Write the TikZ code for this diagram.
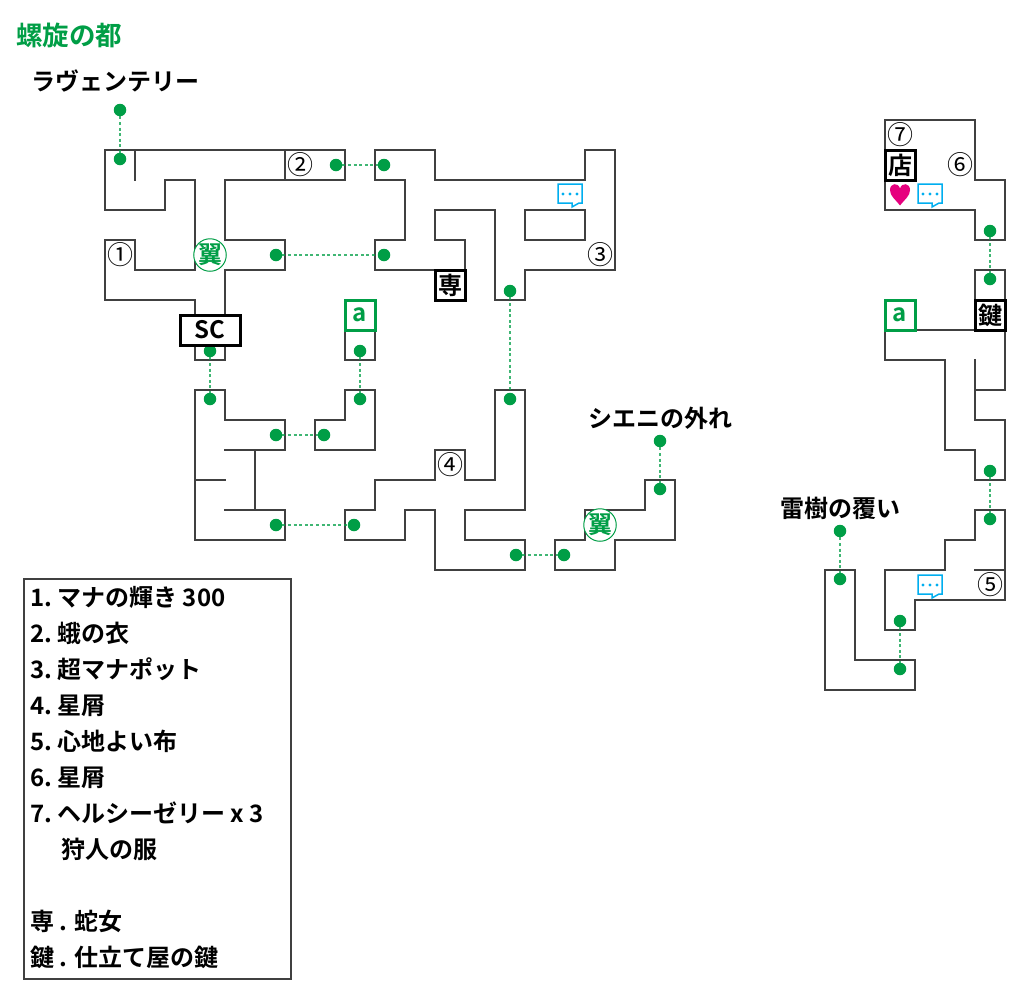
\documentclass[tikz,border=0pt]{standalone}
\usepackage{fontspec}
\setmainfont{Noto Sans CJK JP}[BoldFont={Noto Sans CJK JP Bold}]
\newcommand{\tk}{\kern-2pt }
\definecolor{wall}{HTML}{404040}
\definecolor{grn}{HTML}{009E46}
\definecolor{chatblue}{HTML}{00AEEF}
\definecolor{heartc}{HTML}{E6007E}
\tikzset{
  wallline/.style={draw=wall,line width=1.7pt,line join=miter,line cap=rect},
  dotpt/.style={circle,fill=grn,inner sep=0pt,minimum size=12.5pt},
  linkline/.style={draw=grn,draw opacity=.75,line width=1.8pt,dash pattern=on 3pt off 2.6pt},
  markbox/.style={draw=black,fill=white,line width=3pt,inner sep=0pt,minimum width=30pt,minimum height=30pt,font=\fontsize{24}{24}\selectfont\bfseries},
  sbox/.style={markbox,minimum width=60pt},
  abox/.style={markbox,draw=grn,text=grn},
  wingmark/.style={circle,draw=grn,fill=white,line width=1pt,inner sep=0pt,minimum size=29.5pt,text=grn,font=\fontsize{24}{24}\selectfont\bfseries},
  numlabel/.style={inner sep=0pt,font=\fontsize{26}{26}\selectfont},
  place/.style={inner sep=0pt,font=\fontsize{24}{24}\selectfont\bfseries},
  legendline/.style={anchor=base west,inner sep=0pt,font=\fontsize{24}{24}\selectfont\bfseries},
  chat/.pic={
    \draw[chatblue,line width=1.5pt,line join=miter,fill=white] (-12,-10) -- (12,-10) -- (12,9) -- (9,9) -- (2,13) -- (2,9) -- (-12,9) -- cycle;
    \fill[chatblue] (-7,0) circle (1.7) (0,0) circle (1.7) (7,0) circle (1.7);
  },
}
\begin{document}
\begin{tikzpicture}[x=1pt,y=-1pt]
\useasboundingbox (0,0) rectangle (1035,1005);

% walls
\draw[wallline] (105,150) -- (345,150) -- (345,180) -- (225,180) -- (225,240) -- (285,240) -- (285,270) -- (225,270) -- (225,315);
\draw[wallline] (105,150) -- (105,210) -- (165,210) -- (165,180) -- (195,180) -- (195,270) -- (135,270) -- (135,240) -- (105,240) -- (105,300) -- (195,300) -- (195,315);
\draw[wallline] (135,150) -- (135,180);
\draw[wallline] (285,150) -- (285,180);
\draw[wallline] (195,345) -- (195,360) -- (225,360) -- (225,345);
\draw[wallline] (345,330) -- (345,360) -- (375,360) -- (375,330);
\draw[wallline] (465,270) -- (465,240) -- (435,240) -- (435,210) -- (495,210) -- (495,300) -- (525,300) -- (525,270) -- (615,270) -- (615,150) -- (585,150) -- (585,180) -- (435,180) -- (435,150) -- (375,150) -- (375,180) -- (405,180) -- (405,240) -- (375,240) -- (375,270) -- (435,270);
\draw[wallline] (525,210) rectangle (585,240);
\draw[wallline] (195,390) -- (225,390) -- (225,420) -- (285,420) -- (285,450) -- (225,450);
\draw[wallline] (255,450) -- (255,510);
\draw[wallline] (195,480) -- (225,480);
\draw[wallline] (225,510) -- (285,510) -- (285,540) -- (195,540) -- (195,390);
\draw[wallline] (315,420) -- (345,420) -- (345,390) -- (375,390) -- (375,450) -- (315,450) -- cycle;
\draw[wallline] (345,510) -- (375,510) -- (375,480) -- (435,480) -- (435,450) -- (465,450) -- (465,480) -- (495,480) -- (495,390) -- (525,390) -- (525,510) -- (465,510) -- (465,540) -- (525,540) -- (525,570) -- (435,570) -- (435,510) -- (405,510) -- (405,540) -- (345,540) -- cycle;
\draw[wallline] (555,570) -- (615,570) -- (615,540) -- (675,540) -- (675,480) -- (645,480) -- (645,510) -- (585,510) -- (585,540) -- (555,540) -- cycle;
\draw[wallline] (885,120) -- (975,120) -- (975,180) -- (1005,180) -- (1005,240) -- (975,240) -- (975,210) -- (885,210) -- cycle;
\draw[wallline] (975,300) -- (975,270) -- (1005,270) -- (1005,300);
\draw[wallline] (885,330) -- (975,330);
\draw[wallline] (885,330) -- (885,360) -- (945,360) -- (945,450) -- (975,450) -- (975,480) -- (1005,480) -- (1005,420) -- (975,420) -- (975,360);
\draw[wallline] (1005,330) -- (1005,390) -- (975,390);
\draw[wallline] (975,510) -- (1005,510) -- (1005,600) -- (915,600) -- (915,630) -- (885,630) -- (885,570) -- (945,570) -- (945,540) -- (975,540) -- cycle;
\draw[wallline] (975,570) -- (1005,570);
\draw[wallline] (825,570) -- (855,570) -- (855,660) -- (915,660) -- (915,690) -- (825,690) -- cycle;

% link end points
\node[dotpt] (l1a) at (120,110) {};  \node[dotpt] (l1b) at (120,159) {};
\node[dotpt] (l2a) at (336,165) {};  \node[dotpt] (l2b) at (384,165) {};
\node[dotpt] (l3a) at (276,255) {};  \node[dotpt] (l3b) at (384,255) {};
\node[dotpt] (l4a) at (210,351) {};  \node[dotpt] (l4b) at (210,399) {};
\node[dotpt] (l5a) at (360,351) {};  \node[dotpt] (l5b) at (360,399) {};
\node[dotpt] (l6a) at (276,435) {};  \node[dotpt] (l6b) at (324,435) {};
\node[dotpt] (l7a) at (276,525) {};  \node[dotpt] (l7b) at (354,525) {};
\node[dotpt] (l8a) at (510,291) {};  \node[dotpt] (l8b) at (510,399) {};
\node[dotpt] (l9a) at (516,555) {};  \node[dotpt] (l9b) at (564,555) {};
\node[dotpt] (l10a) at (660,441) {}; \node[dotpt] (l10b) at (660,489) {};
\node[dotpt] (l11a) at (990,231) {}; \node[dotpt] (l11b) at (990,279) {};
\node[dotpt] (l12a) at (990,471) {}; \node[dotpt] (l12b) at (990,519) {};
\node[dotpt] (l13a) at (840,531) {}; \node[dotpt] (l13b) at (840,579) {};
\node[dotpt] (l14a) at (900,621) {}; \node[dotpt] (l14b) at (900,669) {};
\foreach \k in {1,...,14} \draw[linkline] (l\k a) -- (l\k b);

% marks
\node[sbox] (sc) at (210,330) {SC};
\node[abox] (a1) at (360,315) {a};
\node[abox] (a2) at (900,315) {a};
\node[markbox] (sen) at (450,285) {専};
\node[markbox] (mise) at (900,165) {店};
\node[markbox] (kagi) at (990,315) {鍵};
\node[wingmark] (w1) at (210,255) {翼};
\node[wingmark] (w2) at (600,525) {翼};

% numbers
\node[numlabel] (n1) at (120,255) {①};
\node[numlabel] (n2) at (300,165) {②};
\node[numlabel] (n3) at (600,255) {③};
\node[numlabel] (n4) at (450,465) {④};
\node[numlabel] (n5) at (990,585) {⑤};
\node[numlabel] (n6) at (960,165) {⑥};
\node[numlabel] (n7) at (900,135) {⑦};

% chat icons and heart
\pic at (570,194) {chat};
\pic at (930,194) {chat};
\pic at (930,585) {chat};
\fill[heartc] (900,205.5) .. controls (895,199) and (890,196) .. (890,190) .. controls (890,183) and (898,182) .. (900,188.5) .. controls (902,182) and (910,183) .. (910,190) .. controls (910,196) and (905,199) .. (900,205.5) -- cycle;

% place labels
\node[place,anchor=west,text=grn,font=\fontsize{26.5}{26.5}\selectfont\bfseries] (title) at (16,35) {螺旋の都};
\node[place] (p1) at (115,81) {ラヴェンテリー};
\node[place] (p2) at (660,418) {シエニの外れ};
\node[place] (p3) at (840,508) {雷樹の覆い};

% legend
\node[draw=wall,line width=1.7pt,inner sep=0pt,minimum width=267pt,minimum height=400pt] (legend) at (157.5,779) {};
\node[legendline] (t1) at (30,606) {1. \tk マナの輝き 300};
\node[legendline] (t2) at (30,642) {2. \tk 蛾の衣};
\node[legendline] (t3) at (30,678) {3. \tk 超マナポット};
\node[legendline] (t4) at (30,714) {4. \tk 星屑};
\node[legendline] (t5) at (30,750) {5. \tk 心地よい布};
\node[legendline] (t6) at (30,786) {6. \tk 星屑};
\node[legendline] (t7) at (30,822) {7. \tk ヘルシーゼリー x 3};
\node[legendline] (t8) at (61,858) {狩人の服};
\node[legendline] (t9) at (30,930) {専 . 蛇女};
\node[legendline] (t10) at (30,966) {鍵 . 仕立て屋の鍵};
\end{tikzpicture}
\end{document}
